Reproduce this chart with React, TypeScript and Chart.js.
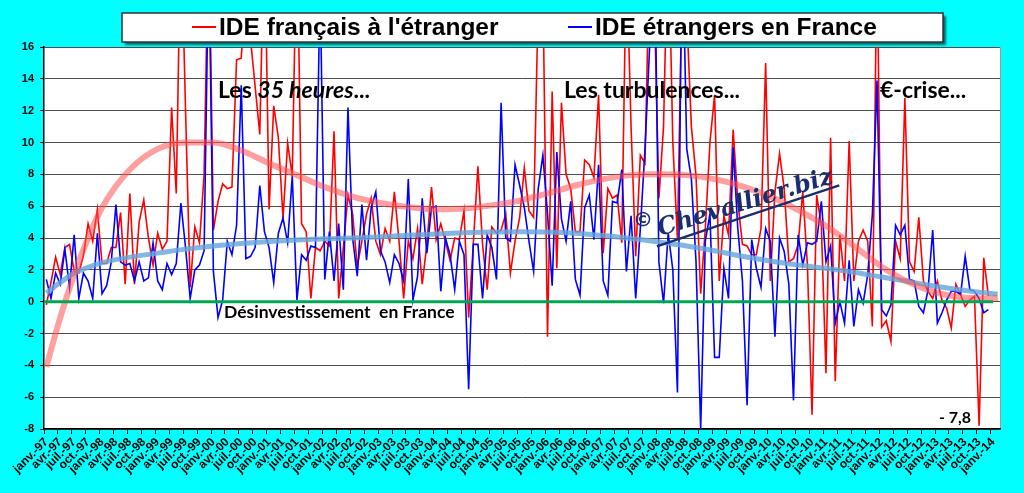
import React, { useEffect, useRef } from 'react';
import { Chart, registerables } from 'chart.js';

Chart.register(...registerables);

// Monthly categories, janv.-97 .. févr.-14
const MOIS = ['janv.', 'févr.', 'mars', 'avr.', 'mai', 'juin', 'juil.', 'août', 'sept.', 'oct.', 'nov.', 'déc.'];
const ANNEES = ['97', '98', '99', '00', '01', '02', '03', '04', '05', '06', '07', '08', '09', '10', '11', '12', '13', '14'];
const CATEGORIES = ANNEES.flatMap((a) => MOIS.map((m) => `${m}-${a}`)).slice(0, 206);

// IDE français à l'étranger (Md€), janv.-97 .. déc.-13
const IDE_FRANCAIS = [
  -0.2, 1.2, 2.8, 1.7, 3.4, 3.6, 1.9, 1.8, 2.9, 4.9, 3.8, 5.8,
  2.4, 2.4, 3.4, 3.4, 5.6, 1.1, 6.8, 1.1, 5.0, 6.4, 4.0, 2.3,
  4.3, 3.3, 3.8, 12.2, 6.8, 24, 12, 0.9, 4.7, 3.7, 8, 24,
  4.5, 6.3, 7.4, 7.1, 7.2, 15.2, 15.3, 20, 16.5, 13.5, 10.5, 24,
  5.8, 12.3, 10.3, 5.25, 9.96, 7.9, 24, 4.9, 4.4, 0.2, 3.4, 3.2,
  3.8, 3.5, 10.7, 0.2, 3.4, 6.7, 5.5, 2.2, 3.8, 5.5, 6.5, 3.8,
  2.95, 4.6, 3.8, 6.9, 3.8, 0.2, 3.8, 2.7, 4.6, 1.1, 3.6, 7.2,
  3.9, 4.9, 3.8, 2.6, 4.0, 3.9, 5.7, -1.0, 3.6, 8.5, 3.6, 0.75,
  4.7, 4.3, 4.5, 5.5, 1.8, 3.8, 5.3, 8.4, 5.7, 5.3, 19, 20,
  -2.2, 13.2, 2.1, 12.5, 8.0, 7.1, 4.4, 4.4, 8.9, 8.6, 7.8, 13.0,
  3.05, 7.1, 6.5, 6.7, 3.7, 22, 11, 2.85, 9.2, 8.7, 22, 19,
  6.5, 11, 24, 10, 3.9, 20, 18, 11, 7.9, 0.5, 4.6, 10,
  13.0, 1.3, 5.4, 4.2, 10.8, 6.3, 3.6, 3.5, 2.95, 2.95, 4.6, 15.0,
  1.3, 6.9, 9.3, 7.1, 2.5, 2.7, 3.6, 6.9, 2.3, -7.1, 6.7, 4.8,
  -4.5, 10.3, -5.0, 4.2, 1.3, 10.1, 1.3, 3.8, 4.5, 3.8, -1.55, 22,
  -1.6, -1.2, -2.5, 3.8, 2.7, 12.8, 2.5, 1.9, 5.3, 1.3, 0.65, 0.2,
  1.3, 0.1, -0.4, -1.65, 1.1, 0.45, -0.3, 0.1, 0.35, -7.8, 2.75, 0.35,
];

// IDE étrangers en France (Md€), janv.-97 .. déc.-13
const IDE_ETRANGERS = [
  1.4, 0.2, 1.8, 1.1, 3.3, 0.9, 4.2, 0.2, 1.8, 1.3, 0.2, 4.3,
  0.5, 1.0, 2.5, 6.1, 2.5, 2.3, 2.4, 1.3, 2.5, 1.3, 1.5, 3.7,
  1.3, 0.75, 2.4, 1.7, 2.4, 6.2, 3.4, 0.2, 2.0, 2.3, 3.2, 22,
  1.9, -1.0, 0.1, 3.8, 2.95, 4.8, 13.6, 2.7, 2.85, 3.4, 7.3, 4.4,
  3.4, 1.2, 4.3, 5.25, 3.7, 7.9, 0.1, 2.95, 2.6, 3.5, 3.4, 20,
  1.4, 4.4, 1.3, 4.9, 0.75, 12.2, 4.0, 1.6, 6.1, 2.6, 5.9, 6.9,
  3.2, 2.5, 1.2, 2.95, 2.4, 1.3, 7.7, 0.1, 1.6, 6.5, 3.05, 5.9,
  6.0, 0.65, 4.0, 2.95, 0.75, 3.8, 2.95, -5.5, 3.6, 3.6, 0.2, 4.2,
  3.4, 1.4, 12.5, 4.0, 3.8, 8.6, 7.3, 5.9, 3.8, 1.9, 7.1, 9.2,
  5.5, 1.0, 9.4, 5.2, 3.8, 6.3, 1.4, 0.4, 5.9, 6.7, 3.9, 8.6,
  1.3, 0.4, 6.3, 6.2, 8.3, 1.9, 5.4, 0.2, 4.6, 9.6, 16, 24,
  2.5, -0.1, 4.3, 2.0, -5.7, 24, 9.6, 7.7, 2.5, -8.0, 3.8, 5.5,
  -3.5, -3.5, 2.1, 0.2, 9.7, 4.6, 1.3, -6.5, 3.9, 2.1, 0.9, 4.6,
  3.8, -2.2, 4.0, 3.15, 1.1, -6.2, 4.2, 2.3, 3.7, 3.6, 3.8, 6.3,
  2.5, 3.5, -1.35, 0.0, -1.35, 2.6, -1.55, 0.75, -0.1, 1.7, 5.5, 13.9,
  -0.5, -0.9, -0.2, 4.8, 4.2, 4.8, 1.4, 1.3, -0.3, -0.7, 0.75, 4.5,
  -1.35, -0.7, 0.1, 0.65, 0.65, 0.45, 2.85, 0.75, 0.65, 0.2, -0.7, -0.5,
];

// trend curves at a few months
const TENDANCE_MOIS = [0, 3, 6, 9, 12, 18, 24, 30, 36, 42, 48, 54, 60, 66, 72, 78, 84, 90, 96,
  102, 108, 114, 120, 126, 132, 138, 144, 150, 156, 162, 168, 174, 180, 186, 192, 198, 204, 205];
const TENDANCE_FRANCAIS = [-4.1, -1.0, 1.7, 4.0, 5.9, 8.3, 9.6, 10.0, 10.0, 9.5, 8.7, 7.95, 7.2, 6.6, 6.2, 5.95, 5.8, 5.85, 6.05,
  6.35, 6.8, 7.3, 7.7, 7.95, 8.0, 7.95, 7.7, 7.25, 6.6, 5.75, 4.75, 3.5, 2.2, 1.2, 0.55, 0.25, 0.2, 0.25];
const TENDANCE_ETRANGERS = [0.55, 1.2, 1.8, 2.15, 2.45, 2.8, 3.05, 3.3, 3.5, 3.65, 3.78, 3.88, 3.95, 4.0, 4.08, 4.17, 4.25, 4.33, 4.38,
  4.4, 4.38, 4.3, 4.15, 3.97, 3.75, 3.5, 3.2, 2.85, 2.55, 2.3, 2.1, 1.85, 1.55, 1.25, 0.95, 0.7, 0.5, 0.48];

const Y_MIN = -8;
const Y_MAX = 16;
const Y_STEP = 2;
const ZERO_FIN = 204; // green zero line runs up to janv.-14
const MOIS_MINI = 201; // oct.-13, the -7,8 point

const AXIS_FONT = { family: "'Liberation Sans', Arial, sans-serif", size: 11, weight: 'bold' as const };
const X_FONT = { family: "'Liberation Sans', Arial, sans-serif", size: 12, weight: 'bold' as const };

const decorPlugin = {
  id: 'decor',
  beforeDraw(chart: any) {
    const { ctx, chartArea: a, width, height } = chart;
    ctx.save();
    ctx.fillStyle = '#00ffff';
    ctx.fillRect(0, 0, width, height);
    ctx.fillStyle = '#ffffff';
    ctx.fillRect(a.left, a.top, a.right - a.left, a.bottom - a.top);
    ctx.strokeStyle = '#9a9a9a';
    ctx.lineWidth = 1;
    ctx.beginPath();
    ctx.moveTo(a.left, a.top + 0.5);
    ctx.lineTo(a.right + 0.5, a.top + 0.5);
    ctx.lineTo(a.right + 0.5, a.bottom);
    ctx.stroke();
    ctx.restore();
  },
  afterDatasetsDraw(chart: any) {
    const { ctx, chartArea: a, scales } = chart;
    const xs = scales.x;
    const ys = scales.y;
    ctx.save();

    // zero line
    const y0 = ys.getPixelForValue(0);
    ctx.strokeStyle = '#00a651';
    ctx.lineWidth = 3;
    ctx.beginPath();
    ctx.moveTo(a.left, y0);
    ctx.lineTo(xs.getPixelForValue(ZERO_FIN), y0);
    ctx.stroke();

    // annotations
    ctx.fillStyle = '#000';
    ctx.textBaseline = 'alphabetic';
    ctx.textAlign = 'left';
    ctx.font = "bold 23px Lato, sans-serif";
    let x = 218;
    ctx.fillText('Les ', x, 98);
    x += ctx.measureText('Les ').width;
    ctx.font = "italic bold 23px Lato, sans-serif";
    ctx.fillText('35 heures', x, 98);
    x += ctx.measureText('35 heures').width;
    ctx.font = "bold 23px Lato, sans-serif";
    ctx.fillText('...', x, 98);
    ctx.fillText('Les turbulences...', 564, 98);
    ctx.fillText('€-crise...', 880, 98);

    ctx.font = "bold 17.5px Lato, sans-serif";
    ctx.fillText('Désinvestissement  en France', 224, 318);

    ctx.font = "bold 16px Lato, sans-serif";
    ctx.textAlign = 'right';
    ctx.fillText('- 7,8', xs.getPixelForValue(MOIS_MINI) - 8, 423);

    // watermark
    ctx.fillStyle = '#1b2d6b';
    ctx.strokeStyle = '#1b2d6b';
    ctx.textAlign = 'left';
    ctx.font = "bold 20px 'DejaVu Sans', sans-serif";
    ctx.fillText('©', 633, 226);
    ctx.translate(660, 236);
    ctx.rotate(-17 * Math.PI / 180);
    ctx.font = "italic bold 24px 'DejaVu Serif', serif";
    ctx.fillText('Chevallier.biz', 0, 0);
    const w = ctx.measureText('Chevallier.biz').width;
    ctx.lineWidth = 2.5;
    ctx.beginPath();
    ctx.moveTo(-6, 9);
    ctx.quadraticCurveTo(w * 0.5, 6, w + 4, 4);
    ctx.stroke();
    ctx.restore();
  },
};

const legendePlugin = {
  id: 'legende',
  afterDraw(chart: any) {
    const ctx = chart.ctx;
    ctx.save();
    ctx.shadowColor = 'rgba(0, 60, 60, 0.75)';
    ctx.shadowOffsetX = 3;
    ctx.shadowOffsetY = 3;
    ctx.shadowBlur = 2;
    ctx.fillStyle = '#ffffff';
    ctx.fillRect(122, 13, 821, 29);
    ctx.shadowColor = 'transparent';
    ctx.strokeStyle = '#333';
    ctx.lineWidth = 1.5;
    ctx.strokeRect(122, 13, 821, 29);

    const items = [
      { ds: chart.data.datasets[3], x: 192 },
      { ds: chart.data.datasets[2], x: 568 },
    ];
    ctx.font = "bold 24.5px 'Liberation Sans', Arial, sans-serif";
    ctx.textBaseline = 'alphabetic';
    ctx.textAlign = 'left';
    items.forEach(({ ds, x }) => {
      ctx.strokeStyle = ds.borderColor;
      ctx.lineWidth = 2;
      ctx.beginPath();
      ctx.moveTo(x, 27);
      ctx.lineTo(x + 24, 27);
      ctx.stroke();
      ctx.fillStyle = '#000';
      ctx.fillText(ds.label, x + 27, 35);
    });
    ctx.restore();
  },
};

const IdeChart = () => {
  const chartRef = useRef<HTMLCanvasElement>(null);
  const chartInstance = useRef<Chart | null>(null);

  useEffect(() => {
    if (!chartRef.current) return;
    if (chartInstance.current) chartInstance.current.destroy();
    const ctx = chartRef.current.getContext('2d');
    if (!ctx) return;

    const trend = (vals: number[]) => TENDANCE_MOIS.map((m, i) => ({ x: CATEGORIES[m], y: vals[i] }));

    chartInstance.current = new Chart(ctx, {
      type: 'line',
      data: {
        labels: CATEGORIES,
        datasets: [
          {
            label: 'Tendance IDE français',
            data: trend(TENDANCE_FRANCAIS) as any,
            borderColor: 'rgba(255, 80, 80, 0.55)',
            borderWidth: 6,
            pointRadius: 0,
            cubicInterpolationMode: 'monotone',
            order: 0,
          },
          {
            label: 'Tendance IDE étrangers',
            data: trend(TENDANCE_ETRANGERS) as any,
            borderColor: 'rgba(100, 165, 218, 0.8)',
            borderWidth: 5,
            pointRadius: 0,
            cubicInterpolationMode: 'monotone',
            order: 1,
          },
          {
            label: 'IDE étrangers en France',
            data: IDE_ETRANGERS,
            borderColor: '#0000ff',
            borderWidth: 1.6,
            pointRadius: 0,
            tension: 0,
            order: 2,
          },
          {
            label: "IDE français à l'étranger",
            data: IDE_FRANCAIS,
            borderColor: '#ff0000',
            borderWidth: 1.6,
            pointRadius: 0,
            tension: 0,
            order: 3,
          },
        ],
      },
      options: {
        animation: false,
        responsive: true,
        maintainAspectRatio: false,
        layout: { padding: { top: 47, right: 24, left: 0, bottom: 0 } },
        plugins: {
          legend: { display: false },
          tooltip: { enabled: false },
        },
        scales: {
          x: {
            offset: true,
            afterFit: (s: any) => { s.height = 64; },
            grid: {
              offset: true,
              drawOnChartArea: false,
              drawTicks: true,
              tickLength: 5,
              color: (c: any) => (c.index % 3 === 0 ? '#000' : 'rgba(0,0,0,0)'),
            },
            border: { display: true, color: '#000', width: 1.5 },
            ticks: {
              autoSkip: false,
              minRotation: 45,
              maxRotation: 45,
              padding: 1,
              color: '#000',
              font: X_FONT,
              callback: (_v: any, i: number) => (i % 3 === 0 ? CATEGORIES[i] : ''),
            },
          },
          y: {
            min: Y_MIN,
            max: Y_MAX,
            afterFit: (s: any) => { s.width = 44; },
            grid: {
              color: '#4d4d4d',
              lineWidth: 1,
              tickLength: 4,
              tickColor: '#000',
            },
            border: { display: true, color: '#000', width: 1.5 },
            ticks: {
              stepSize: Y_STEP,
              padding: 6,
              color: '#000',
              font: AXIS_FONT,
            },
          },
        },
      },
      plugins: [decorPlugin, legendePlugin],
    });

    return () => {
      if (chartInstance.current) {
        chartInstance.current.destroy();
        chartInstance.current = null;
      }
    };
  }, []);

  return <canvas ref={chartRef}></canvas>;
};

export default function App() {
  return (
    <div style={{ position: 'fixed', left: 0, top: 0, width: 1024, height: 493, background: '#00ffff' }}>
      <IdeChart />
    </div>
  );
}
